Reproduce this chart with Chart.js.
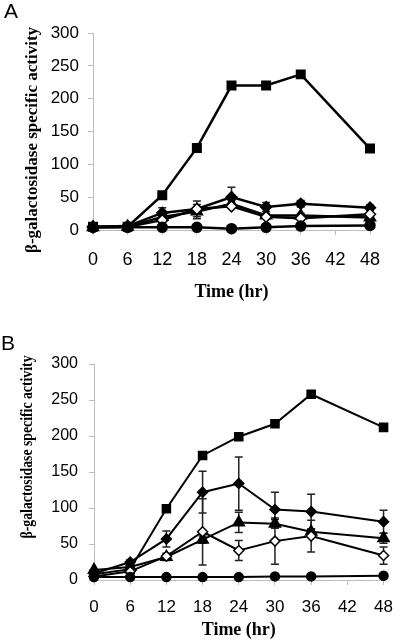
<!DOCTYPE html>
<html>
<head>
<meta charset="utf-8">
<script src="https://cdn.jsdelivr.net/npm/chart.js@4"></script>
<style>
  body { margin: 0; background: #fff; width: 405px; height: 642px; overflow: hidden; }
  .panel { position: absolute; left: 0; width: 405px; }
</style>
</head>
<body>
<div class="panel" style="top:0"><canvas id="chartA" width="405" height="320"></canvas></div>
<div class="panel" style="top:320px"><canvas id="chartB" width="405" height="322"></canvas></div>
<script>
// sampling times (hr) and axis ticks
const hours = [0, 6, 12, 18, 24, 30, 36, 48];
const xTicks = [0, 6, 12, 18, 24, 30, 36, 42, 48];
const yTicks = [0, 50, 100, 150, 200, 250, 300];

// panel A values
const squareA   = [5, 5, 53, 125, 220, 220, 237, 124];
const diamondA  = [5, 6, 26, 32, 50, 35, 40, 34];
const diamondAErr = [0, 1, 8, 12, 15, 7, 5, 4];
const triangleA = [4, 5, 20, 28, 40, 22, 22, 19];
const triangleAErr = [0, 0, 3, 11, 5, 3, 3, 3];
const openA     = [4, 5, 15, 32, 36, 20, 18, 24];
const circleA   = [4, 4, 4, 4, 2, 4, 6, 7];

// panel B values
const squareB   = [8, 15, 99, 173, 199, 217, 258, 212];
const diamondB  = [9, 25, 57, 122, 134, 98, 95, 81];
const diamondBErr = [0, 3, 11, 29, 37, 24, 24, 16];
const triangleB = [14, 18, 32, 56, 80, 78, 67, 58];
const triangleBErr = [0, 2, 5, 5, 14, 6, 4, 7];
const openB     = [5, 12, 33, 67, 41, 54, 61, 34];
const openBErr  = [0, 2, 3, 46, 14, 32, 22, 12];
const circleB   = [4, 4, 4, 4, 4, 5, 5, 6];

const yTitle = 'β-galactosidase specific activity';
const xTitle = 'Time (hr)';

function series(vals, style, radius, fill, errs, lw) {
  return {
    data: hours.map((h, i) => ({ x: h, y: vals[i] })),
    errors: errs,
    borderColor: '#000',
    borderWidth: lw,
    pointStyle: style,
    pointRadius: radius,
    pointBackgroundColor: fill,
    pointBorderColor: '#000',
    pointBorderWidth: 1.5,
    tension: 0,
    clip: false
  };
}

// draws the error bars under the markers
const errorBars = {
  id: 'errorBars',
  beforeDatasetsDraw(chart) {
    const ctx = chart.ctx, xs = chart.scales.x, ys = chart.scales.y;
    ctx.save();
    ctx.strokeStyle = '#222';
    ctx.lineWidth = 1.5;
    chart.data.datasets.forEach(ds => {
      if (!ds.errors) return;
      ds.data.forEach((p, i) => {
        const e = ds.errors[i];
        if (!e) return;
        const x = xs.getPixelForValue(p.x);
        const y1 = ys.getPixelForValue(p.y + e);
        const y2 = ys.getPixelForValue(Math.max(p.y - e, 0));
        ctx.beginPath();
        ctx.moveTo(x, y1); ctx.lineTo(x, y2);
        ctx.moveTo(x - 4, y1); ctx.lineTo(x + 4, y1);
        ctx.moveTo(x - 4, y2); ctx.lineTo(x + 4, y2);
        ctx.stroke();
      });
    });
    ctx.restore();
  }
};

// panel letter and axis titles
const labels = {
  id: 'labels',
  afterDraw(chart, args, o) {
    const ctx = chart.ctx;
    ctx.save();
    ctx.fillStyle = '#000';
    ctx.font = '21px "Liberation Sans"';
    ctx.textAlign = 'left';
    ctx.textBaseline = 'top';
    ctx.fillText(o.letter, o.letterX, o.letterY);

    ctx.textAlign = 'center';
    ctx.textBaseline = 'middle';
    ctx.font = 'bold ' + o.xTitleSize + 'px "Liberation Serif"';
    ctx.fillText(xTitle, (chart.chartArea.left + chart.chartArea.right) / 2, o.xTitleY);

    ctx.translate(o.yTitleX, o.yTitleY);
    ctx.rotate(-Math.PI / 2);
    ctx.scale(o.yTitleStretch, 1);
    ctx.font = 'bold ' + o.yTitleSize + 'px "Liberation Serif"';
    ctx.fillText(yTitle, 0, 0);
    ctx.restore();
  }
};

function makeChart(id, datasets, g) {
  const axisGrey = '#bdbdbd';
  new Chart(document.getElementById(id), {
    type: 'line',
    data: { datasets: datasets },
    plugins: [errorBars, labels],
    options: {
      responsive: false,
      animation: false,
      layout: { padding: { left: 0, top: g.top, right: g.right, bottom: 0 } },
      plugins: {
        legend: { display: false },
        tooltip: { enabled: false },
        labels: g.text
      },
      scales: {
        x: {
          type: 'linear', min: 0, max: 48,
          afterBuildTicks: s => { s.ticks = xTicks.map(v => ({ value: v })); },
          afterFit: s => { s.height = g.height - g.bottom; },
          grid: { drawOnChartArea: false, drawTicks: true, tickLength: 5, color: axisGrey },
          border: { color: axisGrey, width: 1 },
          ticks: { color: '#000', font: { family: 'Liberation Sans', size: g.xFont }, padding: g.xPad, maxRotation: 0, autoSkip: false }
        },
        y: {
          min: 0, max: 300,
          afterBuildTicks: s => { s.ticks = yTicks.map(v => ({ value: v })); },
          afterFit: s => { s.width = g.left; },
          grid: { drawOnChartArea: false, drawTicks: true, tickLength: 5, color: axisGrey },
          border: { color: axisGrey, width: 1 },
          ticks: { color: '#000', font: { family: 'Liberation Sans', size: g.yFont }, padding: g.yPad }
        }
      }
    }
  });
}

makeChart('chartA', [
  series(circleA, 'circle', 5, '#000', null, 2.5),
  series(openA, 'rectRot', 5.5, '#fff', null, 2.5),
  series(triangleA, 'triangle', 6.5, '#000', triangleAErr, 2.5),
  series(diamondA, 'rectRot', 5.5, '#000', diamondAErr, 2.5),
  series(squareA, 'rect', 6, '#000', null, 2.5)
], {
  left: 93, top: 33, right: 35, bottom: 230, height: 320,
  xFont: 18, yFont: 17, xPad: 14, yPad: 9,
  text: { letter: 'A', letterX: 4, letterY: 2, xTitleY: 292, xTitleSize: 18, yTitleX: 33, yTitleY: 140, yTitleSize: 17, yTitleStretch: 1 }
});

makeChart('chartB', [
  series(circleB, 'circle', 4.5, '#000', null, 2),
  series(openB, 'rectRot', 5, '#fff', openBErr, 2),
  series(triangleB, 'triangle', 6.5, '#000', triangleBErr, 2),
  series(diamondB, 'rectRot', 5, '#000', diamondBErr, 2),
  series(squareB, 'rect', 5.7, '#000', null, 2)
], {
  left: 94, top: 44, right: 18, bottom: 260, height: 322,
  xFont: 17, yFont: 16, xPad: 12, yPad: 11,
  text: { letter: 'B', letterX: 1, letterY: 14, xTitleY: 310, xTitleSize: 18, yTitleX: 28, yTitleY: 127, yTitleSize: 16, yTitleStretch: 0.86 }
});
</script>
</body>
</html>
